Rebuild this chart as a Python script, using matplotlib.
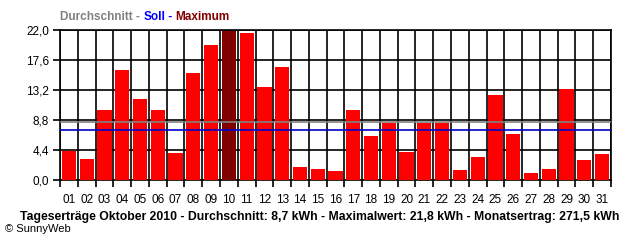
import numpy as np
import matplotlib
matplotlib.use("Agg")
import matplotlib.pyplot as plt

plt.rcParams["font.family"] = ["Liberation Sans", "DejaVu Sans"]

# daily yields October 2010 (kWh)
days = ["%02d" % d for d in range(1, 32)]
yields = [4.3, 3.1, 10.3, 16.1, 11.9, 10.3, 4.0, 15.7, 19.8, 21.8,
          21.6, 13.6, 16.6, 1.9, 1.6, 1.3, 10.3, 6.4, 8.4, 4.1,
          8.4, 8.4, 1.5, 3.4, 12.5, 6.8, 1.0, 1.6, 13.3, 2.9, 3.8]
average = 8.55
target = 7.4
yticks = [0.0, 4.4, 8.8, 13.2, 17.6, 22.0]

max_idx = int(np.argmax(yields))
colors = ["#ff0000"] * len(yields)
colors[max_idx] = "#800000"

fig = plt.figure(figsize=(6.4, 2.4), dpi=100)
ax = fig.add_axes([60 / 640, 60 / 240, 551 / 640, 150 / 240])

x = np.arange(len(days))
ax.bar(x, yields, width=0.8, color=colors, zorder=3, edgecolor="none")

ax.set_xlim(-0.5, len(days) - 0.5)
ax.set_ylim(0, 22)

# grid: horizontal at the y ticks, vertical between the days
ax.set_yticks(yticks)
ax.set_yticklabels([("%.1f" % v).replace(".", ",") for v in yticks], fontsize=8.5)
ax.set_xticks(x)
ax.set_xticklabels(days, fontsize=8.5)
ax.set_xticks(np.arange(len(days) + 1) - 0.5, minor=True)
ax.tick_params(axis="x", which="major", length=0, pad=10)
ax.tick_params(axis="x", which="minor", length=5, width=1.2)
ax.tick_params(axis="y", length=5, width=1.2, pad=3)
ax.grid(axis="y", which="major", color="black", lw=1.2, zorder=1)
ax.grid(axis="x", which="minor", color="black", lw=1.2, zorder=1)
for s in ax.spines.values():
    s.set_linewidth(1.2)

ax.axhline(average, color="#808080", lw=1.2, zorder=4)
ax.axhline(target, color="#0000cc", lw=1.2, zorder=4)

# legend line at the top, pieces placed one after another
pieces = [("Durchschnitt - ", "#808080"), ("Soll", "#0000ff"),
          (" - ", "#0000ff"), ("Maximum", "#800000")]
renderer = fig.canvas.get_renderer()
xpos = 60
for txt, col in pieces:
    t = fig.text(xpos / 640, 1 - 17 / 240, txt, color=col, fontsize=8.5,
                 fontweight="bold", va="center")
    bb = t.get_window_extent(renderer=renderer)
    xpos += bb.width

fig.text(320 / 640, 1 - 217 / 240,
         "Tageserträge Oktober 2010 - Durchschnitt: 8,7 kWh - Maximalwert: 21,8 kWh - Monatsertrag: 271,5 kWh",
         fontsize=8.8, fontweight="bold", ha="center", va="center")
fig.text(5 / 640, 1 - 229 / 240, "© SunnyWeb", fontsize=8, va="center")

fig.savefig("out.png", dpi=100)
